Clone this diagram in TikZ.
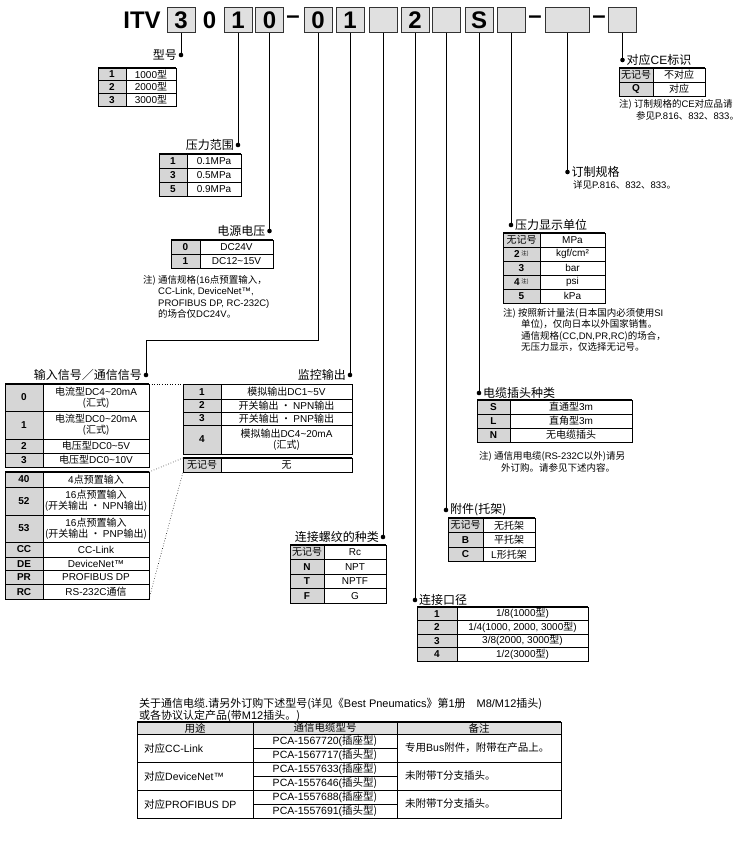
\documentclass[tikz,border=0pt]{standalone}
\usepackage{fontspec}
\setmainfont{Noto Sans CJK SC}
\newfontfamily\lat{Liberation Sans}
\newcommand\la[1]{{\lat #1}}
\newcommand\nj[1]{{\normalfont #1}}
\newcommand\zhu{\,{\normalfont\fontsize{5.5}{6}\selectfont\raisebox{2.5pt}{注)}}}
\definecolor{cg}{gray}{0.84}
\definecolor{hg}{gray}{0.88}
\newcommand\tld{\textasciitilde}
\tikzset{
 hdr/.style={font=\fontsize{24}{24}\selectfont\lat\bfseries, inner sep=0pt},
 hbox/.style={hdr, draw=black!80, fill=hg, line width=0.8pt, minimum width=28pt, minimum height=25pt},
 lbl/.style={font=\fontsize{12}{13}\selectfont, inner sep=0pt},
 ctxt/.style={font=\fontsize{10}{11}\selectfont, inner sep=0pt, align=center},
 btxt/.style={font=\fontsize{10.5}{11}\selectfont, inner sep=0pt, align=center},
 ltxt/.style={font=\fontsize{10.5}{11}\selectfont, inner sep=0pt, anchor=west},
 codet/.style={font=\fontsize{10}{11}\selectfont\lat\bfseries, inner sep=0pt, align=center},
 notet/.style={font=\fontsize{9.5}{11}\selectfont, inner sep=0pt, anchor=base west},
 cellline/.style={draw=black, line width=0.5pt},
 frameline/.style={draw=black, line width=0.9pt},
 topline/.style={line width=1.5pt},
 lead/.style={line width=0.8pt},
 dotline/.style={dotted, line width=0.6pt},
}
\newcommand\trow[9]{%
  \filldraw[cellline, fill=#9] (#2,#5) rectangle (#3,#6);
  \draw[cellline] (#3,#5) rectangle (#4,#6);
  \node[codet] (#1c) at ({(#2+#3)/2},{(#5+#6)/2}) {#7};
  \node[ctxt] (#1t) at ({(#3+#4)/2},{(#5+#6)/2}) {#8};}
\newcommand\tframe[4]{%
  \draw[frameline] (#1,#3) rectangle (#2,#4);
  \draw[topline] (#1,#3) -- (#2,#3);}
\newcommand\ldot[1]{\fill (#1) circle (2.3pt);}
\begin{document}
\begin{tikzpicture}[x=1pt,y=-1pt]
\useasboundingbox (0,0) rectangle (753,845);
% ---------------- header
\node[hdr] (itv) at (142,20) {ITV};
\node[hbox] (b3) at (181,20) {3};
\node[hdr] (p0) at (209.5,20) {0};
\node[hbox] (b1) at (238,20) {1};
\node[hbox] (b0) at (269.5,20) {0};
\node[hdr] (m1) at (293,20) {–};
\node[hbox] (b0b) at (318,20) {0};
\node[hbox] (b1b) at (350,20) {1};
\node[hbox] (bx1) at (383,20) {};
\node[hbox] (b2) at (415,20) {2};
\node[hbox] (bx2) at (446,20) {};
\node[hbox] (bS) at (479,20) {S};
\node[hbox] (bx3) at (511,20) {};
\node[hdr] (m2) at (535,20) {–};
\node[hbox, minimum width=44pt] (bx4) at (567.5,20) {};
\node[hdr] (m3) at (599,20) {–};
\node[hbox] (bx5) at (622.5,20) {};
% ---------------- leader dots
\coordinate (dxh) at (b3.south |- 0,55);
\coordinate (dyl) at (b1.south |- 0,145);
\coordinate (ddy) at (b0.south |- 0,231);
\coordinate (dinA) at (b0b.south |- 0,340);
\coordinate (dinB) at (146,340);
\coordinate (din) at (146,375);
\coordinate (djk) at (b1b.south |- 0,375);
\coordinate (dlw) at (bx1.south |- 0,537);
\coordinate (dkj) at (b2.south |- 0,600);
\coordinate (dfj) at (bx2.south |- 0,510);
\coordinate (ddl) at (bS.south |- 0,393);
\coordinate (dxs) at (bx3.south |- 0,225);
\coordinate (ddz) at (bx4.south |- 0,172);
\coordinate (dce) at (bx5.south |- 0,60);
\draw[lead] (b3.south) -- (dxh);
\draw[lead] (b1.south) -- (dyl);
\draw[lead] (b0.south) -- (ddy);
\draw[lead] (b0b.south) -- (dinA) -- (dinB) -- (din);
\draw[lead] (b1b.south) -- (djk);
\draw[lead] (bx1.south) -- (dlw);
\draw[lead] (b2.south) -- (dkj);
\draw[lead] (bx2.south) -- (dfj);
\draw[lead] (bS.south) -- (ddl);
\draw[lead] (bx3.south) -- (dxs);
\draw[lead] (bx4.south) -- (ddz);
\draw[lead] (bx5.south) -- (dce);
\ldot{dxh}\ldot{dyl}\ldot{ddy}\ldot{din}\ldot{djk}\ldot{dlw}\ldot{dkj}\ldot{dfj}\ldot{ddl}\ldot{dxs}\ldot{ddz}\ldot{dce}
\node[lbl, anchor=east] (lxh) at ([xshift=-4pt]dxh) {型号};
\node[lbl, anchor=east] (lyl) at ([xshift=-4pt]dyl) {压力范围};
\node[lbl, anchor=east] (ldy) at ([xshift=-4pt]ddy) {电源电压};
\node[lbl, anchor=east] (lin) at ([xshift=-4pt]din) {输入信号／通信信号};
\node[lbl, anchor=east] (ljk) at ([xshift=-4pt]djk) {监控输出};
\node[lbl, anchor=east] (llw) at ([xshift=-4pt]dlw) {连接螺纹的种类};
\node[lbl, anchor=west] (lkj) at ([xshift=4pt]dkj) {连接口径};
\node[lbl, anchor=west] (lfj) at ([xshift=4pt]dfj) {附件(托架)};
\node[lbl, anchor=west] (ldl) at ([xshift=4pt]ddl) {电缆插头种类};
\node[lbl, anchor=west] (lxs) at ([xshift=4pt]dxs) {压力显示单位};
\node[lbl, anchor=west] (ldz) at ([xshift=4pt]ddz) {订制规格};
\node[lbl, anchor=west] (lce) at ([xshift=4pt]dce) {对应\la{CE}标识};
% ---------------- 型号
\trow{xa}{98}{126}{176}{68}{80.7}{1}{\la{1000}型}{cg}
\trow{xb}{98}{126}{176}{80.7}{93.3}{2}{\la{2000}型}{cg}
\trow{xc}{98}{126}{176}{93.3}{106}{3}{\la{3000}型}{cg}
\tframe{98}{176}{68}{106}
% ---------------- 压力范围
\trow{ya}{159}{187}{241}{154}{168}{1}{\la{0.1MPa}}{cg}
\trow{yb}{159}{187}{241}{168}{182}{3}{\la{0.5MPa}}{cg}
\trow{yc}{159}{187}{241}{182}{196}{5}{\la{0.9MPa}}{cg}
\tframe{159}{241}{154}{196}
% ---------------- 电源电压
\trow{da}{171}{200}{273}{240}{254}{0}{\la{DC24V}}{cg}
\trow{db}{171}{200}{273}{254}{268}{1}{\la{DC12\tld 15V}}{cg}
\tframe{171}{273}{240}{268}
\node[notet] (n1a) at (143,283) {注) 通信规格(\la{16}点预置输入，};
\node[notet] (n1b) at (158,294.5) {\la{CC-Link, DeviceNet™,}};
\node[notet] (n1c) at (158,306) {\la{PROFIBUS DP, RC-232C)}};
\node[notet] (n1d) at (158,317.5) {的场合仅\la{DC24V}。};
% ---------------- 输入信号
\trow{ia}{5}{43}{149}{384}{411}{0}{电流型\la{DC4\tld 20mA}\\(汇式)}{cg}
\trow{ib}{5}{43}{149}{411}{439}{1}{电流型\la{DC0\tld 20mA}\\(汇式)}{cg}
\trow{ic}{5}{43}{149}{439}{453}{2}{电压型\la{DC0\tld 5V}}{cg}
\trow{id}{5}{43}{149}{453}{467}{3}{电压型\la{DC0\tld 10V}}{cg}
\tframe{5}{149}{384}{467}
\trow{ja}{5}{43}{149}{472}{487}{40}{\la{4}点预置输入}{cg}
\trow{jb}{5}{43}{149}{487}{515}{52}{\la{16}点预置输入\\(开关输出 · \la{NPN}输出)}{cg}
\trow{jc}{5}{43}{149}{515}{542}{53}{\la{16}点预置输入\\(开关输出 · \la{PNP}输出)}{cg}
\trow{jd}{5}{43}{149}{542}{557}{CC}{\la{CC-Link}}{cg}
\trow{je}{5}{43}{149}{557}{570.5}{DE}{\la{DeviceNet™}}{cg}
\trow{jf}{5}{43}{149}{570.5}{584.5}{PR}{\la{PROFIBUS DP}}{cg}
\trow{jg}{5}{43}{149}{584.5}{599}{RC}{\la{RS-232C}通信}{cg}
\tframe{5}{149}{472}{599}
% ---------------- 监控输出
\trow{ka}{183}{221}{352}{384.5}{399}{1}{模拟输出\la{DC1\tld 5V}}{cg}
\trow{kb}{183}{221}{352}{399}{412}{2}{开关输出 · \la{NPN}输出}{cg}
\trow{kc}{183}{221}{352}{412}{425}{3}{开关输出 · \la{PNP}输出}{cg}
\trow{kd}{183}{221}{352}{425}{454}{4}{模拟输出\la{DC4\tld 20mA}\\(汇式)}{cg}
\tframe{183}{352}{384.5}{454}
\trow{ke}{183}{221}{352}{458}{472}{\nj{无记号}}{无}{cg}
\tframe{183}{352}{458}{472}
\coordinate (ct1) at (149,384); \coordinate (ct2) at (183,384);
\coordinate (ct3) at (149,472); \coordinate (ct4) at (183,458);
\coordinate (ct5) at (149,599); \coordinate (ct6) at (183,472);
\draw[dotline] (ct1) -- (ct2);
\draw[dotline] (ct3) -- (ct4);
\draw[dotline] (ct5) -- (ct6);
% ---------------- 连接螺纹
\trow{la}{290}{324}{386}{545}{559.5}{\nj{无记号}}{\la{Rc}}{cg}
\trow{lb}{290}{324}{386}{559.5}{574}{N}{\la{NPT}}{cg}
\trow{lc}{290}{324}{386}{574}{588.5}{T}{\la{NPTF}}{cg}
\trow{ld}{290}{324}{386}{588.5}{603}{F}{\la{G}}{cg}
\tframe{290}{386}{545}{603}
% ---------------- 连接口径
\trow{ma}{417}{457}{588}{607}{620.5}{1}{\la{1/8(1000}型\la{)}}{cg}
\trow{mb}{417}{457}{588}{620.5}{634}{2}{\la{1/4(1000, 2000, 3000}型\la{)}}{cg}
\trow{mc}{417}{457}{588}{634}{647.5}{3}{\la{3/8(2000, 3000}型\la{)}}{cg}
\trow{md}{417}{457}{588}{647.5}{661}{4}{\la{1/2(3000}型\la{)}}{cg}
\tframe{417}{588}{607}{661}
% ---------------- 附件
\trow{fa}{448}{483}{535}{518}{532.5}{\nj{无记号}}{无托架}{cg}
\trow{fb}{448}{483}{535}{532.5}{547}{B}{平托架}{cg}
\trow{fc}{448}{483}{535}{547}{561.5}{C}{\la{L}形托架}{cg}
\tframe{448}{535}{518}{561.5}
% ---------------- 电缆插头种类
\trow{ga}{477}{510}{632}{400}{414}{S}{直通型\la{3m}}{cg}
\trow{gb}{477}{510}{632}{414}{428}{L}{直角型\la{3m}}{cg}
\trow{gc}{477}{510}{632}{428}{442}{N}{无电缆插头}{cg}
\tframe{477}{632}{400}{442}
\node[notet] (n2a) at (479,459) {注) 通信用电缆(\la{RS-232C}以外)请另};
\node[notet] (n2b) at (501,471) {外订购。请参见下述内容。};
% ---------------- 压力显示单位
\trow{sa}{503}{540}{605}{233}{247}{\nj{无记号}}{\la{MPa}}{cg}
\trow{sb}{503}{540}{605}{247}{261}{2\zhu}{\la{kgf/cm²}}{cg}
\trow{sc}{503}{540}{605}{261}{275}{3}{\la{bar}}{cg}
\trow{sd}{503}{540}{605}{275}{289}{4\zhu}{\la{psi}}{cg}
\trow{se}{503}{540}{605}{289}{303}{5}{\la{kPa}}{cg}
\tframe{503}{605}{233}{303}
\node[notet] (n3a) at (503,316) {注) 按照新计量法(日本国内必须使用\la{SI}};
\node[notet] (n3b) at (521,327.5) {单位)，仅向日本以外国家销售。};
\node[notet] (n3c) at (521,339) {通信规格(\la{CC,DN,PR,RC})的场合，};
\node[notet] (n3d) at (521,350.5) {无压力显示，仅选择无记号。};
% ---------------- 订制规格
\node[notet] (n4a) at (573,189) {详见\la{P.816}、\la{832}、\la{833}。};
% ---------------- CE
\trow{ca}{619}{653}{705}{68}{82}{\nj{无记号}}{不对应}{cg}
\trow{cb}{619}{653}{705}{82}{96}{Q}{对应}{cg}
\tframe{619}{705}{68}{96}
\node[notet] (n5a) at (619,108) {注) 订制规格的\la{CE}对应品请};
\node[notet] (n5b) at (636,119.5) {参见\la{P.816}、\la{832}、\la{833}。};
% ---------------- bottom
\node[notet, font=\fontsize{11}{12}\selectfont] (t1) at (139,707) {关于通信电缆.请另外订购下述型号(详见《\la{Best Pneumatics}》第\la{1}册　\la{M8/M12}插头)};
\node[notet, font=\fontsize{11}{12}\selectfont] (t2) at (139,719.5) {或各协议认定产品(带\la{M12}插头。)};
\filldraw[cellline, fill=hg] (137,722) rectangle (253,734);
\filldraw[cellline, fill=hg] (253,722) rectangle (397,734);
\filldraw[cellline, fill=hg] (397,722) rectangle (561,734);
\node[btxt] (bh1) at (195,728) {用途};
\node[btxt] (bh2) at (325,728) {通信电缆型号};
\node[btxt] (bh3) at (479,728) {备注};
\foreach \g/\ya/\ca/\pa/\pb/\rk in {1/734/对应\la{CC-Link}/\la{PCA-1567720(}插座型)/\la{PCA-1567717(}插头型)/专用\la{Bus}附件，附带在产品上。,
  2/762/对应\la{DeviceNet™}/\la{PCA-1557633(}插座型)/\la{PCA-1557646(}插头型)/未附带\la{T}分支插头。,
  3/790/对应\la{PROFIBUS DP}/\la{PCA-1557688(}插座型)/\la{PCA-1557691(}插头型)/未附带\la{T}分支插头。}{
  \draw[cellline] (137,\ya) rectangle (253,\ya+28);
  \draw[cellline] (253,\ya) rectangle (397,\ya+14);
  \draw[cellline] (253,\ya+14) rectangle (397,\ya+28);
  \draw[cellline] (397,\ya) rectangle (561,\ya+28);
  \node[ltxt] (bu\g) at (144,\ya+14) {\ca};
  \node[btxt] (bp\g a) at (325,\ya+7) {\pa};
  \node[btxt] (bp\g b) at (325,\ya+21) {\pb};
  \node[ltxt] (br\g) at (405,\ya+14) {\rk};
}
\tframe{137}{561}{722}{818}
\end{tikzpicture}
\end{document}
